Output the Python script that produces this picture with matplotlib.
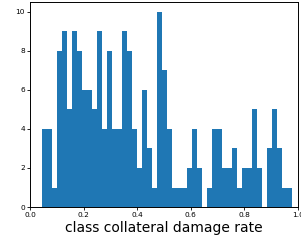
import numpy as np
import matplotlib
matplotlib.use("Agg")
import matplotlib.pyplot as plt

# histogram counts, 50 bins
counts = [4, 4, 1, 8, 9, 5, 9, 8, 6, 6,
          5, 9, 4, 8, 4, 4, 9, 8, 4, 2,
          6, 3, 1, 10, 7, 4, 1, 1, 1, 2,
          4, 2, 0, 1, 4, 4, 2, 2, 3, 1,
          2, 2, 5, 2, 0, 3, 5, 3, 1, 1]
x_min = 0.045
x_max = 0.979
edges = np.linspace(x_min, x_max, len(counts) + 1)

fig = plt.figure(figsize=(3.01, 2.43), dpi=100)
ax = fig.add_axes([0.0997, 0.148, 0.8903, 0.844])
ax.hist(edges[:-1], bins=edges, weights=counts, color="C0")
ax.set_xlim(0, 1.0)
ax.set_xticks([0.0, 0.2, 0.4, 0.6, 0.8, 1.0])
ax.set_yticks([0, 2, 4, 6, 8, 10])
ax.tick_params(labelsize=5.3, length=2, width=0.6, pad=1.5)
for s in ax.spines.values():
    s.set_linewidth(0.7)
ax.set_xlabel("class collateral damage rate", fontsize=10, labelpad=2)

fig.savefig("out.png", dpi=100)
